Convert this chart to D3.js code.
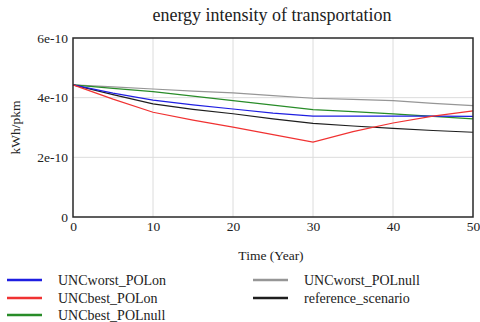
<!DOCTYPE html>
<html>
<head>
<meta charset="utf-8">
<script src="https://cdn.jsdelivr.net/npm/d3@7"></script>
<style>
  html, body { margin: 0; padding: 0; background: #fff; }
</style>
</head>
<body>
<div class="container"></div>
<script>
// data (values in kWh/pkm)
const years = [0, 5, 10, 15, 20, 25, 30, 35, 40, 45, 50];
const uncWorstPolOn   = [4.43, 4.15, 3.92, 3.76, 3.62, 3.48, 3.38, 3.38, 3.38, 3.38, 3.37].map(v => v * 1e-10);
const uncBestPolOn    = [4.43, 3.95, 3.51, 3.25, 3.01, 2.76, 2.51, 2.86, 3.15, 3.38, 3.56].map(v => v * 1e-10);
const uncBestPolNull  = [4.43, 4.31, 4.20, 4.05, 3.90, 3.75, 3.60, 3.53, 3.46, 3.37, 3.29].map(v => v * 1e-10);
const uncWorstPolNull = [4.43, 4.36, 4.29, 4.22, 4.16, 4.07, 3.98, 3.94, 3.90, 3.81, 3.73].map(v => v * 1e-10);
const referenceScen   = [4.43, 4.10, 3.79, 3.61, 3.46, 3.29, 3.14, 3.05, 2.97, 2.90, 2.84].map(v => v * 1e-10);
const seriesNames = ["UNCworst_POLon", "UNCbest_POLon", "UNCbest_POLnull", "UNCworst_POLnull", "reference_scenario"];
const xTicks = [0, 10, 20, 30, 40, 50];
const yTicks = [0, 2e-10, 4e-10, 6e-10];
const yTickLabels = ["0", "2e-10", "4e-10", "6e-10"];

const W = 480, H = 322;
const FONT = "'Liberation Serif', 'Times New Roman', serif";
const margin = { left: 73, right: 7, top: 38, bottom: 105 };
const colors = ["rgb(30,30,225)", "rgb(240,50,50)", "rgb(40,140,40)", "rgb(150,150,150)", "rgb(30,30,30)"];
const allSeries = [uncWorstPolOn, uncBestPolOn, uncBestPolNull, uncWorstPolNull, referenceScen];

const svg = d3.select(".container").append("svg")
  .attr("width", W)
  .attr("height", H);

const x = d3.scaleLinear()
  .domain([0, 50])
  .range([margin.left, W - margin.right]);

const y = d3.scaleLinear()
  .domain([0, 6e-10])
  .range([H - margin.bottom, margin.top]);

// grid
svg.append("g")
  .selectAll("line")
  .data(xTicks.slice(1, -1))
  .enter()
  .append("line")
  .attr("x1", d => x(d)).attr("x2", d => x(d))
  .attr("y1", y(0)).attr("y2", y(6e-10))
  .attr("stroke", "rgb(220,220,220)");

svg.append("g")
  .selectAll("line")
  .data(yTicks.slice(1, -1))
  .enter()
  .append("line")
  .attr("x1", x(0)).attr("x2", x(50))
  .attr("y1", d => y(d)).attr("y2", d => y(d))
  .attr("stroke", "rgb(220,220,220)");

// lines
const line = d3.line()
  .x((d, i) => x(years[i]))
  .y(d => y(d));

// draw order so the grey/green sit behind
const order = [3, 2, 4, 0, 1];
order.forEach(k => {
  svg.append("path")
    .datum(allSeries[k])
    .attr("fill", "none")
    .attr("stroke", colors[k])
    .attr("stroke-width", 1.2)
    .attr("d", line);
});

// frame
svg.append("rect")
  .attr("x", x(0))
  .attr("y", y(6e-10))
  .attr("width", x(50) - x(0))
  .attr("height", y(0) - y(6e-10))
  .attr("fill", "none")
  .attr("stroke", "rgb(40,40,40)")
  .attr("stroke-width", 1.5);

// axes
const xAxis = svg.append("g")
  .attr("transform", `translate(0,${y(0)})`)
  .call(d3.axisBottom(x).tickValues(xTicks).tickSize(0).tickPadding(4));
xAxis.select(".domain").remove();
xAxis.selectAll("text")
  .style("font-family", FONT)
  .style("font-size", "13.5px")
  .attr("fill", "#222");

const yAxis = svg.append("g")
  .attr("transform", `translate(${x(0)},0)`)
  .call(d3.axisLeft(y).tickValues(yTicks).tickSize(0).tickPadding(5)
    .tickFormat((d, i) => yTickLabels[i]));
yAxis.select(".domain").remove();
yAxis.selectAll("text")
  .style("font-family", FONT)
  .style("font-size", "13.5px")
  .attr("fill", "#222");

// title and axis labels
svg.append("text")
  .attr("x", 272)
  .attr("y", 21)
  .attr("text-anchor", "middle")
  .style("font-family", FONT)
  .style("font-size", "18px")
  .attr("fill", "#222")
  .text("energy intensity of transportation");

svg.append("text")
  .attr("transform", `translate(20,${(y(0) + y(6e-10)) / 2}) rotate(-90)`)
  .attr("text-anchor", "middle")
  .style("font-family", FONT)
  .style("font-size", "13.5px")
  .attr("fill", "#222")
  .text("kWh/pkm");

svg.append("text")
  .attr("x", 271)
  .attr("y", 260)
  .attr("text-anchor", "middle")
  .style("font-family", FONT)
  .style("font-size", "13.5px")
  .attr("fill", "#222")
  .text("Time (Year)");

// legend
const legendPos = [[7, 280], [7, 298], [7, 315], [253, 280], [253, 298]];
const legend = svg.append("g")
  .selectAll("g")
  .data(seriesNames)
  .enter()
  .append("g")
  .attr("transform", (d, i) => `translate(${legendPos[i][0]},${legendPos[i][1]})`);

legend.append("line")
  .attr("x1", 0).attr("x2", 35)
  .attr("stroke", (d, i) => colors[i])
  .attr("stroke-width", 2.5);

legend.append("text")
  .attr("x", 51)
  .attr("dy", "0.35em")
  .style("font-family", FONT)
  .style("font-size", "14px")
  .attr("fill", "#222")
  .text(d => d);
</script>
</body>
</html>
